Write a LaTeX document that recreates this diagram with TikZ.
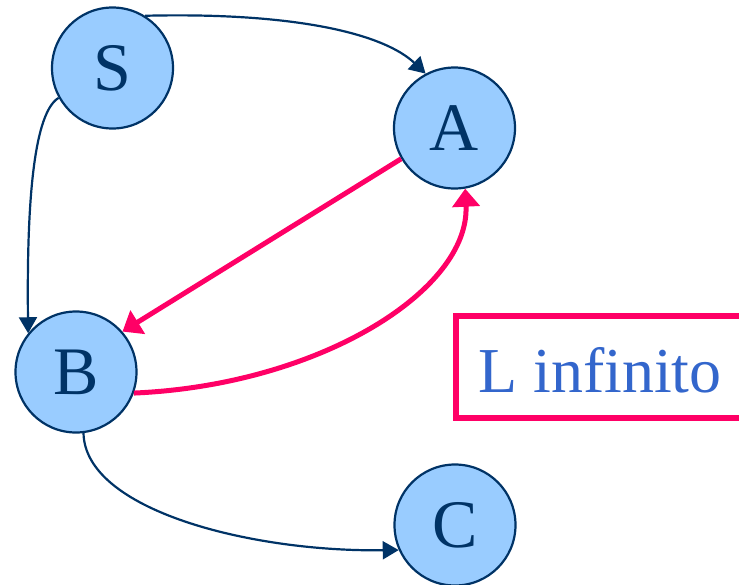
\documentclass[tikz,border=0pt]{standalone}
\usepackage{fontspec}
\setmainfont{Liberation Serif}
\usetikzlibrary{arrows.meta}
\definecolor{nodefill}{HTML}{99CCFF}
\definecolor{navy}{HTML}{003366}
\definecolor{hotpink}{HTML}{FF0066}
\definecolor{txtblue}{HTML}{3366CC}
\tikzset{
  vertex/.style={circle, draw=navy, line width=2.2pt, fill=nodefill, minimum size=121pt, inner sep=0pt, text=navy, font=\fontsize{68}{70}\selectfont},
  navyarrow/.style={draw=navy, line width=2.2pt, -{Triangle[length=16pt,width=18pt]}},
  pinkarrow/.style={draw=hotpink, line width=5pt, -{Triangle[length=18pt,width=27pt]}},
  pinkbox/.style={draw=hotpink, line width=6pt},
  label/.style={text=txtblue, font=\fontsize{64}{66}\selectfont, anchor=base west, inner sep=0pt}
}
\begin{document}
\begin{tikzpicture}[x=1pt,y=-1pt]
\useasboundingbox (0,0) rectangle (739,584);
\clip (0,0) rectangle (739,584);
\node[vertex] (S) at (112.5,68) {S};
\node[vertex] (A) at (454.5,128) {A};
\node[vertex] (B) at (76,372) {B};
\node[vertex] (C) at (455,525) {C};
\draw[navyarrow] (S.58) .. controls (300,12) and (385,35) .. (A.118);
\draw[navyarrow] (S.209) .. controls (30,115) and (27,230) .. (B.141);
\draw[navyarrow] (B.-83) .. controls (85,510) and (250,552) .. (C.204);
\draw[pinkarrow] (A.210) -- (B.41);
\draw[pinkarrow] (B.-20) .. controls (320,385) and (470,290) .. (A.-80);
\node[label] (L) at (478,392) {L infinito};
\draw[pinkbox] (456,316) rectangle (775,418);
\end{tikzpicture}
\end{document}
